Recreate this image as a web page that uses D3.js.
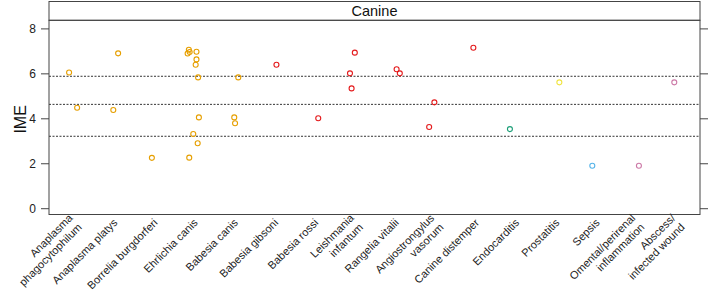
<!DOCTYPE html>
<html>
<head>
<meta charset="utf-8">
<script src="https://cdn.jsdelivr.net/npm/d3@7"></script>
<style>
  html, body { margin: 0; padding: 0; background: #fff; }
  svg { display: block; font-family: "Liberation Sans", Arial, Helvetica, sans-serif; }
</style>
</head>
<body>
<svg id="chart" width="709" height="293"></svg>
<script>
// ---- Data ----
const categories = [
  "Anaplasma\nphagocytophilum", "Anaplasma platys", "Borrelia burgdorferi", "Ehrlichia canis",
  "Babesia canis", "Babesia gibsoni", "Babesia rossi", "Leishmania\ninfantum",
  "Rangelia vitalii", "Angiostrongylus\nvasorum", "Canine distemper", "Endocarditis",
  "Prostatitis", "Sepsis", "Omental/perirenal\ninflammation", "Abscess/\ninfected wound"
];
const categoryColors = [
  "#E69F00", "#E69F00", "#E69F00", "#E69F00", "#E69F00",
  "#E41A1C", "#E41A1C", "#E41A1C", "#E41A1C", "#E41A1C", "#E41A1C",
  "#1B9E77", "#F0E442", "#56B4E9", "#CC79A7", "#CC79A7"
];
// point category index (0-based)
const pointCategory = [
  0, 0,
  1, 1,
  2,
  3, 3, 3, 3, 3, 3, 3, 3, 3, 3, 3,
  4, 4, 4,
  5,
  6,
  7, 7, 7,
  8, 8,
  9, 9,
  10,
  11,
  12,
  13,
  14,
  15
];
// IME values
const pointIME = [
  6.04, 4.47,
  4.37, 6.89,
  2.24,
  7.05, 6.88, 6.95, 6.96, 6.62, 6.38, 5.82, 4.04, 3.30, 2.89, 2.25,
  5.82, 4.04, 3.78,
  6.38,
  4.00,
  6.92, 6.00, 5.33,
  6.18, 6.00,
  4.71, 3.61,
  7.14,
  3.52,
  5.60,
  1.89,
  1.89,
  5.60
];
// horizontal jitter (category units)
const pointJitter = [
  -0.10, 0.10,
  0.00, 0.12,
  -0.04,
  -0.12, -0.15, -0.10, 0.07, 0.07, 0.05, 0.11, 0.13, -0.01, 0.10, -0.11,
  0.11, 0.01, 0.03,
  0.06,
  0.10,
  0.01, -0.11, -0.07,
  0.05, 0.13,
  -0.01, -0.14,
  -0.04,
  -0.13,
  0.10,
  -0.08,
  0.08,
  -0.04
];
const refLines = [5.87, 4.62, 3.20];
const yTicks = [0, 2, 4, 6, 8];
const panelTitle = "Canine";
const yTitle = "IME";

// ---- Layout ----
const svg = d3.select("#chart");
const pLeft = 49, pRight = 700, pTop = 20.3, pBottom = 214.5, stripTop = 1.5;

const x = d3.scaleLinear().domain([0.4, categories.length + 0.6]).range([pLeft, pRight]);
const y = d3.scaleLinear().domain([-0.28, 8.36]).range([pBottom, pTop]);

const frameColor = "#444";

// strip
svg.append("rect")
  .attr("x", pLeft).attr("y", stripTop)
  .attr("width", pRight - pLeft).attr("height", pTop - stripTop)
  .attr("fill", "#fff").attr("stroke", frameColor).attr("stroke-width", 1);
svg.append("text")
  .attr("x", (pLeft + pRight) / 2).attr("y", (stripTop + pTop) / 2)
  .attr("text-anchor", "middle").attr("dominant-baseline", "central")
  .attr("font-size", 14.5).attr("fill", "#111")
  .text(panelTitle);

// reference lines
svg.append("g").selectAll("line").data(refLines).join("line")
  .attr("x1", pLeft).attr("x2", pRight)
  .attr("y1", d => y(d)).attr("y2", d => y(d))
  .attr("stroke", "#333").attr("stroke-width", 1)
  .attr("stroke-dasharray", "2,1.5");

// y axes
const yAxisL = d3.axisLeft(y).tickValues(yTicks).tickSize(8).tickPadding(5);
const gL = svg.append("g").attr("transform", `translate(${pLeft},0)`).call(yAxisL);
gL.select(".domain").remove();
gL.selectAll(".tick line").attr("stroke", frameColor);
gL.selectAll(".tick text").attr("font-size", 12).attr("fill", "#222")
  .attr("font-family", "Liberation Sans, Arial, sans-serif");

const yAxisR = d3.axisRight(y).tickValues(yTicks).tickSize(8).tickFormat("");
const gR = svg.append("g").attr("transform", `translate(${pRight},0)`).call(yAxisR);
gR.select(".domain").remove();
gR.selectAll(".tick line").attr("stroke", frameColor);

// y title
svg.append("text")
  .attr("transform", `translate(20,${(pTop + pBottom) / 2 + 2}) rotate(-90)`)
  .attr("text-anchor", "middle").attr("dominant-baseline", "central")
  .attr("font-size", 16).attr("fill", "#111")
  .text(yTitle);

// points
const pts = pointIME.map((v, i) => ({ c: pointCategory[i], v, j: pointJitter[i] }));
svg.append("g").selectAll("circle").data(pts).join("circle")
  .attr("cx", d => x(d.c + 1 + d.j))
  .attr("cy", d => y(d.v))
  .attr("r", 2.5)
  .attr("fill", "none")
  .attr("stroke", d => categoryColors[d.c])
  .attr("stroke-width", 1.1);

// panel frame
svg.append("rect")
  .attr("x", pLeft).attr("y", pTop)
  .attr("width", pRight - pLeft).attr("height", pBottom - pTop)
  .attr("fill", "none").attr("stroke", frameColor).attr("stroke-width", 1);

// x labels
const lineH = 13;
const lab = svg.append("g").selectAll("g").data(categories).join("g")
  .attr("transform", (d, i) => `translate(${x(i + 1) + 2},${pBottom + 6}) rotate(-45)`);
lab.each(function(d) {
  const lines = d.split("\n");
  const g = d3.select(this);
  lines.forEach((ln, k) => {
    g.append("text")
      .attr("x", 0)
      .attr("y", (k - (lines.length - 1) / 2) * lineH)
      .attr("text-anchor", "end")
      .attr("dominant-baseline", "central")
      .attr("font-size", 11).attr("fill", "#222")
      .text(ln);
  });
});
</script>
</body>
</html>
